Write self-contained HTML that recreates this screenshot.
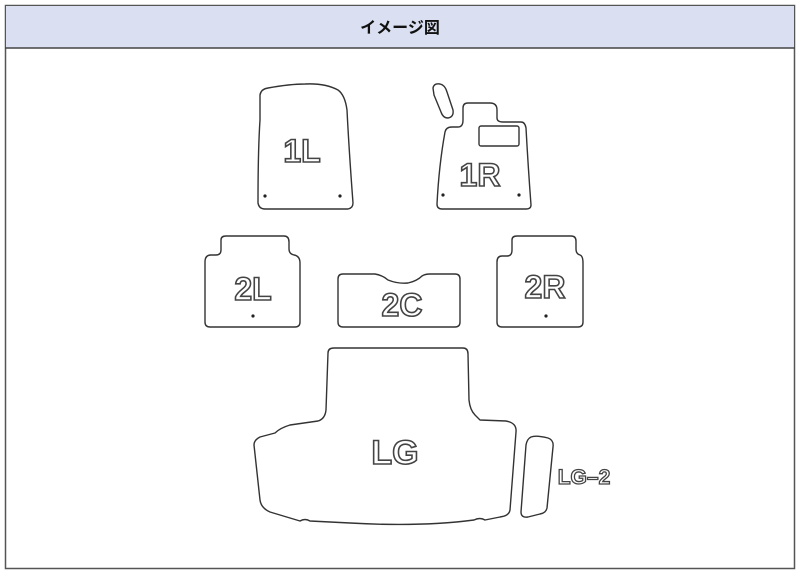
<!DOCTYPE html>
<html><head><meta charset="utf-8"><style>
body{margin:0;background:#fff;width:800px;height:576px;overflow:hidden}
</style></head><body>
<svg width="800" height="576" viewBox="0 0 800 576" xmlns="http://www.w3.org/2000/svg">
<rect x="5.5" y="5.5" width="789" height="563" fill="#fff" stroke="#555" stroke-width="1.5"/>
<rect x="6" y="6" width="788" height="42" fill="#dae0f1"/>
<line x1="5" y1="48" x2="795" y2="48" stroke="#444" stroke-width="1.5"/>
<text x="400" y="33" text-anchor="middle" font-family="Liberation Sans, Noto Sans CJK JP, sans-serif" font-size="16" font-weight="bold" fill="#111">イメージ図</text>
<g fill="none" stroke="#333" stroke-width="1.4" stroke-linejoin="round">
<path d="M260,95 Q261,89 268,88 Q290,84 305,84 Q325,83 338,90 Q345,95 347,110 Q349,150 353,203 Q353,208 348,209 L265,209 Q259,209 258,203 Q258,150 260,120 Z"/>
<path d="M433,88 Q434,83 440,84 Q445,85 447,92 L453,110 Q454,117 448,118 Q443,118 441,112 L434,95 Z"/>
<path d="M463,108 Q463,103 468,103 L490,103 Q497,103 497,110 L497,118 Q497,122 503,122 L521,122 Q525,122 526,128 Q528,165 531,205 Q531,209 526,209 L442,209 Q437,209 437,204 Q439,165 445,132 Q446,127 452,127 L458,127 Q463,127 463,120 Z"/>
<rect x="479" y="126" width="40" height="20" rx="2"/>
<path d="M221,240 Q221,236 226,236 L284,236 Q289,236 289,242 L289,249 Q289,254 294,255 Q300,256 300,263 L300,322 Q300,327 295,327 L210,327 Q205,327 205,322 L205,262 Q205,255 211,255 L216,255 Q221,255 221,250 Z"/>
<path d="M338,279 Q338,274 343,274 L375,274 Q382,275 388,280 Q398,284 408,283 Q417,281 422,276 Q425,274 430,274 L455,274 Q460,274 460,279 L460,322 Q460,327 455,327 L343,327 Q338,327 338,322 Z"/>
<path d="M512,240 Q512,236 517,236 L571,236 Q576,236 576,241 L576,249 Q576,254 580,255 Q583,256 583,263 L583,322 Q583,327 578,327 L502,327 Q497,327 497,322 L497,262 Q497,256 502,256 L507,256 Q512,256 512,250 Z"/>
<path d="M328,353 Q328,348 334,348 L463,348 Q468,348 468,354 L469,400 Q470,410 475,415 L480,420 L506,421 Q517,423 516,432 L510,510 Q509,516 500,517 L485,520 Q480,517 474,520 Q420,527 350,523 L310,521 Q305,518 300,521 L270,512 Q261,508 260,500 L254,445 Q254,440 260,437 L275,433 Q280,428 290,425 L318,421 Q325,419 326,410 Z"/>
<path d="M531,437 Q536,435 548,438 Q554,440 553,447 L547,508 Q546,513 540,514 L528,517 Q521,518 521,512 L526,445 Q527,439 531,437 Z"/>
</g>
<g fill="#222">
<circle cx="265" cy="196" r="1.6"/><circle cx="340" cy="196" r="1.6"/>
<circle cx="443" cy="195" r="1.6"/><circle cx="519" cy="195" r="1.6"/>
<circle cx="253" cy="316" r="1.6"/><circle cx="546" cy="316" r="1.6"/>
</g>
<g font-family="Liberation Sans, sans-serif" font-weight="bold" fill="#fff" stroke="#444" stroke-width="1.6" text-anchor="middle">
<text x="302" y="162" font-size="32">1L</text>
<text x="480" y="186" font-size="32">1R</text>
<text x="253" y="300" font-size="32">2L</text>
<text x="402" y="316" font-size="32">2C</text>
<text x="545" y="298" font-size="32">2R</text>
<text x="395" y="464" font-size="34">LG</text>
<text x="584" y="484" font-size="21" stroke-width="1.3">LG–2</text>
</g>
</svg>
</body></html>
